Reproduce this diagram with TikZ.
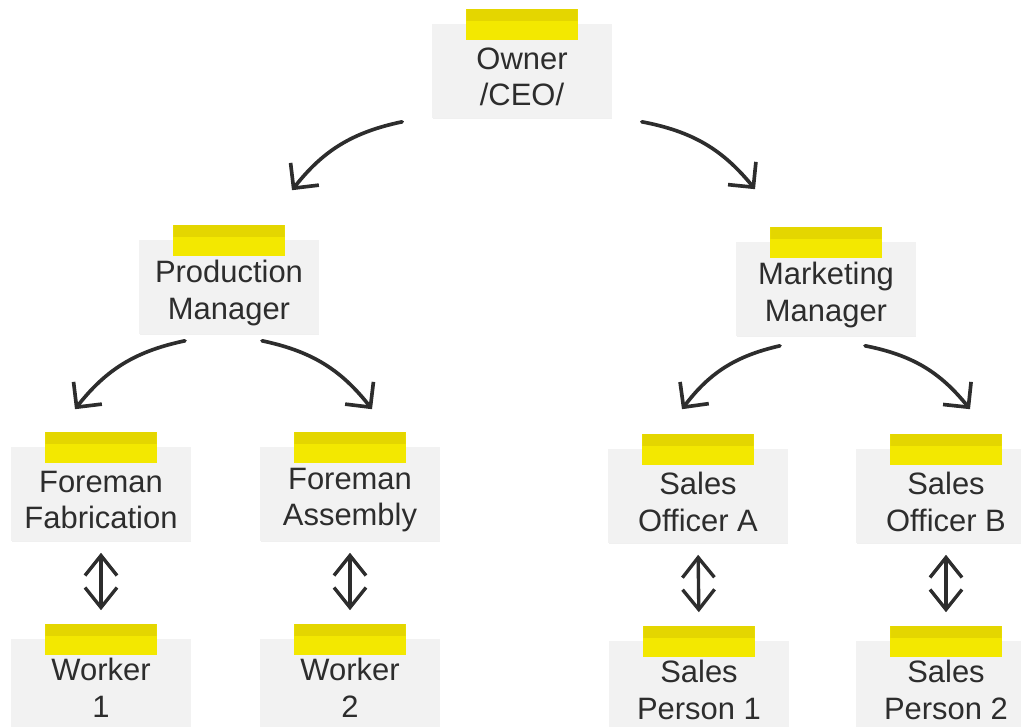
\documentclass[tikz,border=0pt]{standalone}
\usepackage{fontspec}
\setmainfont{Liberation Sans}
\usetikzlibrary{arrows.meta,shadows}

\definecolor{notegray}{RGB}{242,242,242}
\definecolor{tapeyellow}{RGB}{243,232,0}
\definecolor{tapedark}{RGB}{228,214,0}
\definecolor{inkgray}{RGB}{45,45,45}

\tikzset{
  note/.style={rectangle, fill=notegray, minimum width=4.475cm, minimum height=2.325cm,
    drop shadow={opacity=0.12, shadow xshift=0.6pt, shadow yshift=-0.8pt}},
  tape/.style={rectangle, fill=tapeyellow, minimum width=2.775cm, minimum height=0.775cm, inner sep=0pt,
    path picture={\fill[tapedark] (path picture bounding box.north west) rectangle ([yshift=-0.3cm]path picture bounding box.north east);}},
  notetext/.style={align=center, text=inkgray, yshift=-0.15cm, font=\fontsize{22}{26}\selectfont},
  lowtext/.style={notetext, yshift=0.1cm},
  link/.style={draw=inkgray, line width=2.6pt, line cap=round, -{Straight Barb[length=0.45cm, width=0.9cm, line width=2.6pt]}},
  updown/.style={draw=inkgray, line width=2.4pt, {Straight Barb[length=0.5cm, width=0.8cm, line width=2.4pt]}-{Straight Barb[length=0.5cm, width=0.8cm, line width=2.4pt]}}
}

\begin{document}
\begin{tikzpicture}[x=0.025cm, y=-0.025cm]
  \useasboundingbox (0,0) rectangle (1021,727);

  % Top level
  \node[note, label={[notetext]center:Owner\\/CEO/}] (owner) at (522,71) {};

  % Managers
  \node[note, label={[notetext]center:Production\\Manager}] (prod) at (229,287) {};
  \node[note, label={[notetext]center:Marketing\\Manager}] (mkt) at (826,289) {};

  % Foremen and sales officers
  \node[note, label={[notetext]center:Foreman\\Fabrication}] (ffab) at (101,494) {};
  \node[note, label={[notetext]center:Foreman\\Assembly}] (fasm) at (350,494) {};
  \node[note, label={[notetext]center:Sales\\Officer A}] (soA) at (698,496) {};
  \node[note, label={[notetext]center:Sales\\Officer B}] (soB) at (946,496) {};

  % Workers and sales persons
  \node[note, label={[lowtext]center:Worker\\1}] (worker1) at (101,686) {};
  \node[note, label={[lowtext]center:Worker\\2}] (worker2) at (350,686) {};
  \node[note, label={[lowtext]center:Sales\\Person 1}] (sp1) at (699,688) {};
  \node[note, label={[lowtext]center:Sales\\Person 2}] (sp2) at (946,688) {};

  % Tape strips
  \foreach \n in {owner,prod,mkt,ffab,fasm,soA,soB,worker1,worker2,sp1,sp2}
    \node[tape] (\n-tape) at (\n.north) {};

  % Curved arrows
  \draw[link] ([shift={(-30,4)}]owner.south west) to[bend right=20] ([shift={(63,-50)}]prod.north);
  \draw[link] ([shift={(30,4)}]owner.south east) to[bend left=20] ([shift={(-71,-53)}]mkt.north);
  \draw[link] ([shift={(-44,7)}]prod.south) to[bend right=20] ([shift={(-26,-38)}]ffab.north);
  \draw[link] ([shift={(33,7)}]prod.south) to[bend left=20] ([shift={(22,-38)}]fasm.north);
  \draw[link] ([shift={(-46,10)}]mkt.south) to[bend right=20] ([shift={(-16,-40)}]soA.north);
  \draw[link] ([shift={(39,10)}]mkt.south) to[bend left=20] ([shift={(24,-40)}]soB.north);

  % Two-way arrows
  \draw[updown, shorten <=0.3cm, shorten >=0.33cm] (ffab.south) -- (worker1-tape.north);
  \draw[updown, shorten <=0.3cm, shorten >=0.33cm] (fasm.south) -- (worker2-tape.north);
  \draw[updown, shorten <=0.3cm, shorten >=0.33cm] (soA.south) -- (sp1-tape.north);
  \draw[updown, shorten <=0.3cm, shorten >=0.33cm] (soB.south) -- (sp2-tape.north);
\end{tikzpicture}
\end{document}
